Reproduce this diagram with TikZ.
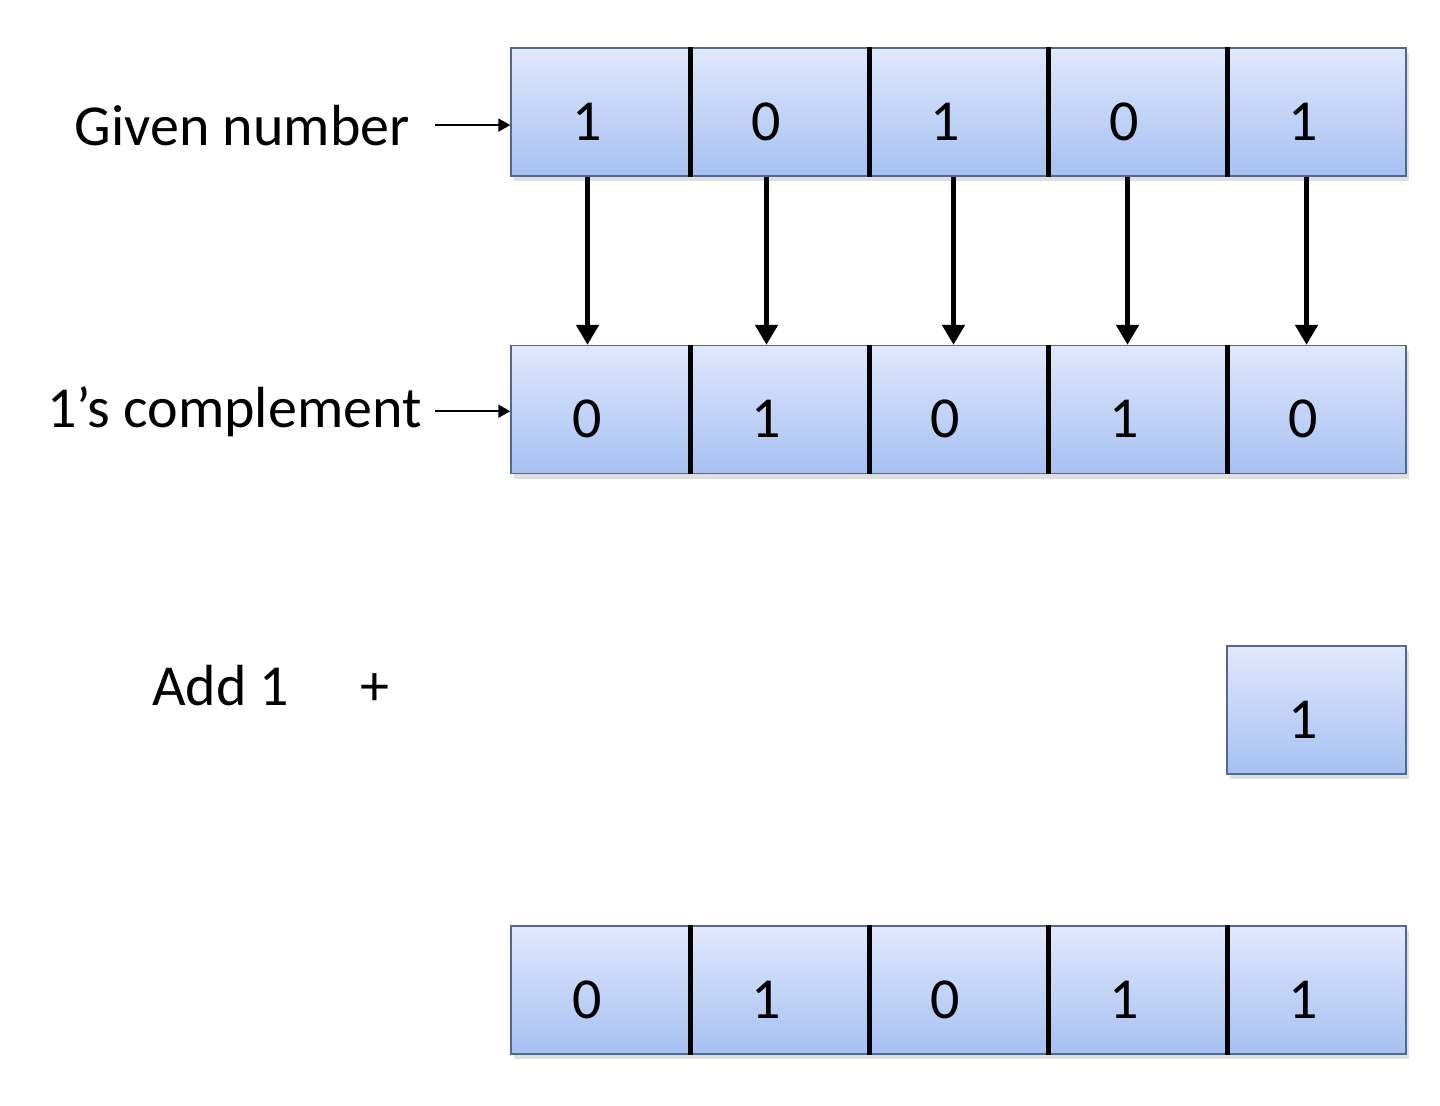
\documentclass[tikz,border=0pt]{standalone}
\usepackage{fontspec}
\setmainfont{Carlito}
\usetikzlibrary{arrows.meta,shadows}
\definecolor{celltop}{RGB}{224,232,252}
\definecolor{cellbot}{RGB}{166,192,242}
\definecolor{celledge}{RGB}{84,104,140}

\begin{document}
\begin{tikzpicture}[cell/.style={rectangle, draw=celledge, line width=0.8pt, top color=celltop, bottom color=cellbot,
        minimum width=35.8mm, minimum height=25.6mm, inner sep=0pt, text height=11.3mm,
        execute at begin node={\hspace*{-5.2mm}},
        drop shadow={opacity=0.25, shadow xshift=0.6mm, shadow yshift=-1mm}},
      divider/.style={line width=2.8pt, black},
      flip/.style={-{Triangle[length=4mm, width=4.4mm]}, line width=2.8pt},
      pointer/.style={-{Triangle[length=2.4mm, width=2.6mm]}, line width=1.1pt},
      lbl/.style={inner sep=0pt},
      node distance=35.8mm]
      \fontsize{33}{40}\selectfont
      \useasboundingbox (0,0) rectangle (28.8,-22.1);

      % given number
      \node[cell] (g1) at (12.01,-2.24) {1};
      \node[cell, right of=g1] (g2) {0};
      \node[cell, right of=g2] (g3) {1};
      \node[cell, right of=g3] (g4) {0};
      \node[cell, right of=g4] (g5) {1};

      % 1's complement
      \node[cell, below of=g1, node distance=59.5mm] (c1) {0};
      \node[cell, right of=c1] (c2) {1};
      \node[cell, right of=c2] (c3) {0};
      \node[cell, right of=c3] (c4) {1};
      \node[cell, right of=c4] (c5) {0};

      % add 1
      \node[cell, below of=c5, node distance=60.1mm] (a1) {1};

      % result
      \node[cell, below of=c1, node distance=116.1mm] (r1) {0};
      \node[cell, right of=r1] (r2) {1};
      \node[cell, right of=r2] (r3) {0};
      \node[cell, right of=r3] (r4) {1};
      \node[cell, right of=r4] (r5) {1};

      \draw[divider] (g1.north east) -- (g1.south east);
      \draw[divider] (g2.north east) -- (g2.south east);
      \draw[divider] (g3.north east) -- (g3.south east);
      \draw[divider] (g4.north east) -- (g4.south east);
      \draw[divider] (c1.north east) -- (c1.south east);
      \draw[divider] (c2.north east) -- (c2.south east);
      \draw[divider] (c3.north east) -- (c3.south east);
      \draw[divider] (c4.north east) -- (c4.south east);
      \draw[divider] (r1.north east) -- (r1.south east);
      \draw[divider] (r2.north east) -- (r2.south east);
      \draw[divider] (r3.north east) -- (r3.south east);
      \draw[divider] (r4.north east) -- (r4.south east);

      \draw[flip] ([xshift=-2.6mm]g1.south) -- ([xshift=-2.6mm]c1.north);
      \draw[flip] ([xshift=-2.6mm]g2.south) -- ([xshift=-2.6mm]c2.north);
      \draw[flip] ([xshift=-1mm]g3.south) -- ([xshift=-1mm]c3.north);
      \draw[flip] ([xshift=-2mm]g4.south) -- ([xshift=-2mm]c4.north);
      \draw[flip] ([xshift=-2mm]g5.south) -- ([xshift=-2mm]c5.north);

      % labels
      \node[lbl, anchor=base east] (given) at (8.2,-2.9) {Given number};
      \node[lbl, anchor=base east] (ones) at (8.44,-8.54) {1’s complement};
      \node[lbl, anchor=base west] (add) at (3.04,-14.1) {Add 1};
      \node[lbl, anchor=base] (plus) at (7.5,-14.1) {+};

      \draw[pointer, shorten <=5mm] (given.east) -- (given.east -| g1.west);
      \draw[pointer, shorten <=2.6mm] (ones.east) -- (ones.east -| c1.west);

    \end{tikzpicture}
\end{document}
